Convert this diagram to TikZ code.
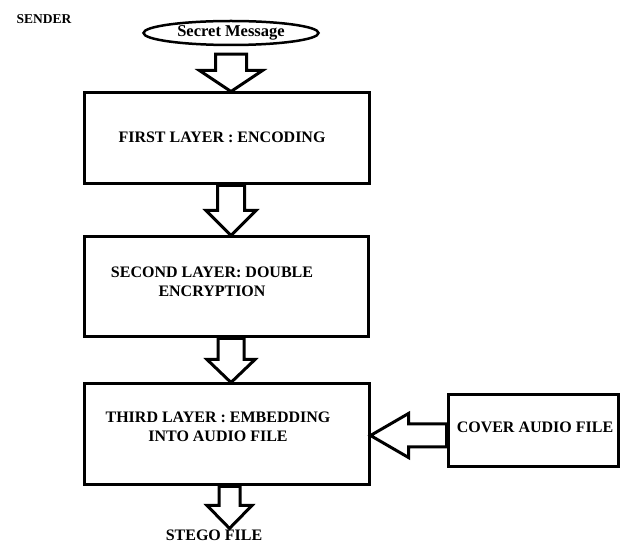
\documentclass[tikz,border=0pt]{standalone}
\usepackage{fontspec}
\setmainfont{Liberation Serif}
\usetikzlibrary{shapes.geometric, calc}

% hollow block arrow: start, tip, stem half width, head half width, head length
\newcommand{\hollowarrow}[5]{%
  \coordinate (hb) at ($(#2)!#5!(#1)$);
  \draw[blockarrow]
    ($(#1)!#3!90:(#2)$) -- ($(hb)!#3!90:(#2)$) -- ($(hb)!#4!90:(#2)$) -- (#2)
    -- ($(hb)!#4!-90:(#2)$) -- ($(hb)!#3!-90:(#2)$) -- ($(#1)!#3!-90:(#2)$) -- cycle;
}

\begin{document}
\begin{tikzpicture}[
  x=1pt, y=-1pt,
  layerbox/.style={
    draw=black, line width=3pt, fill=white, rectangle, inner sep=0pt
  },
  boxtext/.style={font=\fontsize{16}{19}\selectfont\bfseries, align=center},
  blockarrow/.style={draw=black, line width=3pt, fill=white, line join=miter},
]

\useasboundingbox (0,0) rectangle (630,545);

% Title and input
\node[font=\fontsize{13.5}{16}\selectfont\bfseries, anchor=west] (sender) at (13,19) {SENDER};
\node[ellipse, draw=black, line width=2.5pt, inner sep=0pt,
      minimum width=175, minimum height=24,
      font=\fontsize{16.5}{19}\selectfont\bfseries]
  (secret) at (231,33) {Secret Message};

% =============================================
% Layers
% =============================================
\node[layerbox, minimum width=285, minimum height=91] (b1) at (226.5,138.5) {};
\node[boxtext] (t1) at (222,137) {FIRST LAYER : ENCODING};

\node[layerbox, minimum width=284, minimum height=100] (b2) at (226,287) {};
\node[boxtext] (t2) at (212,282) {SECOND LAYER: DOUBLE\\ENCRYPTION};

\node[layerbox, minimum width=285, minimum height=101] (b3) at (226.5,434.5) {};
\node[boxtext] (t3) at (218,427) {THIRD LAYER : EMBEDDING\\INTO AUDIO FILE};

% Cover file
\node[layerbox, minimum width=170, minimum height=72] (cover) at (533,431) {};
\node[boxtext] (tc) at (535,427) {COVER AUDIO FILE};

% Output
\node[boxtext, inner ysep=1pt] (stego) at (214,535) {STEGO FILE};

% =============================================
% Arrows
% =============================================
\coordinate (s1) at ([yshift=-8pt]secret.south);
\coordinate (e1) at (secret.south |- b1.north);
\hollowarrow{s1}{e1}{15.5pt}{31.5pt}{21pt}

\coordinate (s2) at (secret.south |- b1.south);
\coordinate (e2) at (secret.south |- b2.north);
\hollowarrow{s2}{e2}{13.5pt}{25pt}{25pt}

\coordinate (s3) at (secret.south |- b2.south);
\coordinate (e3) at (secret.south |- b3.north);
\hollowarrow{s3}{e3}{13pt}{24pt}{23pt}

\coordinate (s4) at ([xshift=-1.5pt]secret.south |- b3.south);
\coordinate (e4) at ([xshift=-1.5pt]secret.south |- stego.north);
\hollowarrow{s4}{e4}{10.5pt}{22.5pt}{23pt}

% Cover -> third layer
\coordinate (sc) at ([yshift=-4.5pt]cover.west);
\coordinate (ec) at (sc -| b3.east);
\hollowarrow{sc}{ec}{11.5pt}{22pt}{38pt}

\end{tikzpicture}
\end{document}
